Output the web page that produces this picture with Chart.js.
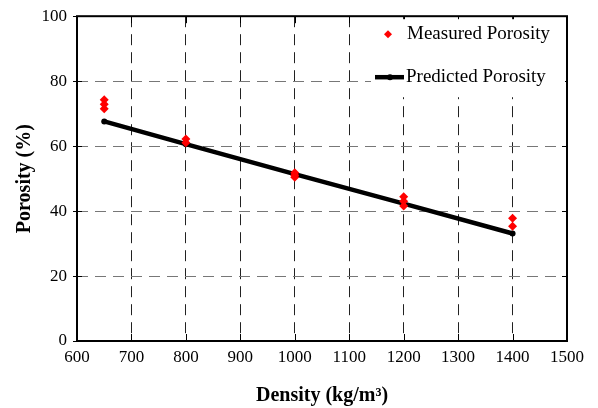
<!DOCTYPE html>
<html>
<head>
<meta charset="utf-8">
<script src="https://cdn.jsdelivr.net/npm/chart.js@4/dist/chart.umd.min.js"></script>
<style>
  html, body { margin: 0; padding: 0; background: #fff; }
  #wrap { width: 598px; height: 408px; position: relative; }
</style>
</head>
<body>
<div id="wrap"><canvas id="c" width="598" height="408"></canvas></div>
<script>
// ---- data ----
const xTicks = [600, 700, 800, 900, 1000, 1100, 1200, 1300, 1400, 1500];
const yTicks = [0, 20, 40, 60, 80, 100];
const measuredDensity  = [650, 650, 650, 800, 800, 1000, 1000, 1000, 1200, 1200, 1200, 1400, 1400];
const measuredPorosity = [74.3, 72.9, 71.5, 62.2, 61.0, 51.8, 51.0, 50.4, 44.4, 43.0, 41.6, 37.8, 35.3];
const predictedDensity  = [650, 800, 1000, 1200, 1400];
const predictedPorosity = [67.6, 60.6, 51.4, 42.3, 33.1];
const seriesNames = ['Measured Porosity', 'Predicted Porosity'];
const xTitle = 'Density (kg/m³)';
const yTitle = 'Porosity (%)';

const FONT = '"Liberation Serif", "Times New Roman", serif';

const measuredData = measuredDensity.map((d, i) => ({ x: d, y: measuredPorosity[i] }));
const predictedData = predictedDensity.map((d, i) => ({ x: d, y: predictedPorosity[i] }));

const framePlugin = {
  id: 'frame',
  beforeDatasetsDraw(chart) {
    const { ctx, chartArea: a, scales } = chart;
    ctx.save();
    ctx.strokeStyle = '#000';
    ctx.lineWidth = 1;
    xTicks.forEach(v => {
      const px = Math.round(scales.x.getPixelForValue(v)) + 0.5;
      ctx.beginPath(); ctx.moveTo(px, a.bottom); ctx.lineTo(px, a.bottom - 7); ctx.stroke();
      ctx.beginPath(); ctx.moveTo(px, a.top); ctx.lineTo(px, a.top + 7); ctx.stroke();
    });
    yTicks.forEach(v => {
      const py = Math.round(scales.y.getPixelForValue(v)) + 0.5;
      ctx.beginPath(); ctx.moveTo(a.left, py); ctx.lineTo(a.left + 5, py); ctx.stroke();
      ctx.beginPath(); ctx.moveTo(a.right, py); ctx.lineTo(a.right - 5, py); ctx.stroke();
    });
    ctx.restore();
  },
  afterDraw(chart) {
    const { ctx, chartArea: a } = chart;
    ctx.save();
    ctx.strokeStyle = '#000';
    ctx.lineWidth = 2;
    ctx.strokeRect(a.left, a.top, a.right - a.left, a.bottom - a.top);
    ctx.restore();
  }
};

const legendPlugin = {
  id: 'customLegend',
  afterDatasetsDraw(chart) {
    const { ctx, chartArea: a } = chart;
    const ds = chart.data.datasets;
    const x0 = a.right - 196, y0 = a.top + 3;
    ctx.save();
    ctx.fillStyle = '#fff';
    ctx.fillRect(x0, y0, 194, 78);
    ctx.font = '19px ' + FONT;
    ctx.textBaseline = 'middle';
    // measured
    const m = ds[0];
    const my = y0 + 15;
    ctx.fillStyle = m.backgroundColor;
    ctx.beginPath();
    const cx = x0 + 17, r = 4;
    ctx.moveTo(cx, my - r); ctx.lineTo(cx + r, my); ctx.lineTo(cx, my + r); ctx.lineTo(cx - r, my); ctx.closePath();
    ctx.fill();
    ctx.fillStyle = '#000';
    ctx.fillText(m.label, x0 + 36, my);
    // predicted
    const p = ds[1];
    const py = y0 + 58;
    ctx.strokeStyle = p.borderColor;
    ctx.lineWidth = p.borderWidth;
    ctx.beginPath(); ctx.moveTo(x0 + 4, py); ctx.lineTo(x0 + 33, py); ctx.stroke();
    ctx.fillStyle = p.pointBackgroundColor;
    ctx.beginPath(); ctx.arc(x0 + 19, py, 3, 0, Math.PI * 2); ctx.fill();
    ctx.fillStyle = '#000';
    ctx.fillText(p.label, x0 + 35, py);
    ctx.restore();
  }
};

new Chart(document.getElementById('c'), {
  type: 'scatter',
  data: {
    datasets: [
      {
        label: seriesNames[0],
        data: measuredData,
        pointStyle: 'rectRot',
        pointRadius: 4.5,
        pointHoverRadius: 4.5,
        backgroundColor: '#ff0000',
        borderColor: '#ff0000',
        borderWidth: 0,
        showLine: false,
        order: 0
      },
      {
        label: seriesNames[1],
        data: predictedData,
        showLine: true,
        borderColor: '#000',
        borderWidth: 4.5,
        pointRadius: 3,
        pointBorderWidth: 0,
        pointBackgroundColor: '#000',
        pointBorderColor: '#000',
        backgroundColor: '#000',
        tension: 0,
        order: 1
      }
    ]
  },
  options: {
    responsive: false,
    animation: false,
    events: [],
    layout: { padding: { left: 13, right: 31, top: 12, bottom: 0 } },
    plugins: { legend: { display: false }, tooltip: { enabled: false } },
    scales: {
      x: {
        type: 'linear',
        min: 600, max: 1500,
        afterBuildTicks(scale) { scale.ticks = xTicks.map(v => ({ value: v })); },
        afterFit(scale) { scale.height = 67; },
        grid: { color: '#222', lineWidth: 1, drawTicks: false, tickLength: 0 },
        border: { display: false, dash: [11, 7] },
        ticks: {
          color: '#000', font: { family: FONT, size: 17 }, padding: 6, maxRotation: 0,
          callback: v => String(v)
        },
        title: { display: true, text: xTitle, color: '#000', font: { family: FONT, size: 20, weight: 'bold' }, padding: { top: 6, bottom: 0 } }
      },
      y: {
        type: 'linear',
        min: 0, max: 100,
        afterBuildTicks(scale) { scale.ticks = yTicks.map(v => ({ value: v })); },
        afterFit(scale) { scale.width = 64; },
        grid: { color: '#777', lineWidth: 1, drawTicks: true, tickLength: 4, tickColor: '#000' },
        border: { display: false, dash: [11, 7] },
        ticks: { color: '#000', font: { family: FONT, size: 17 }, padding: 6, callback: v => String(v) },
        title: { display: true, text: yTitle, color: '#000', font: { family: FONT, size: 20, weight: 'bold' }, padding: { top: 0, bottom: 0 } }
      }
    }
  },
  plugins: [framePlugin, legendPlugin]
});
</script>
</body>
</html>
